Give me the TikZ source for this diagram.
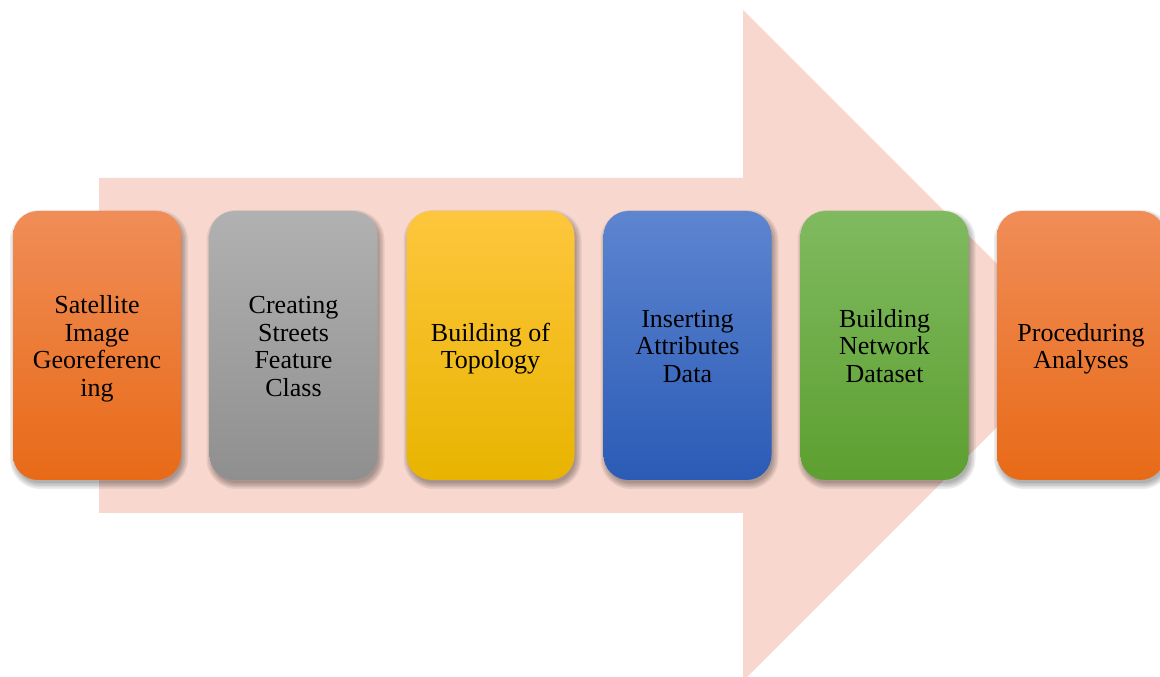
\documentclass[tikz,border=0pt]{standalone}
\usepackage{fontspec}
\setmainfont{Liberation Serif}
\definecolor{arrowfill}{HTML}{F8D8CE}
\definecolor{orange1}{HTML}{F08D57}
\definecolor{orange2}{HTML}{E86A17}
\definecolor{gray1}{HTML}{B1B1B1}
\definecolor{gray2}{HTML}{8F8F8F}
\definecolor{yellow1}{HTML}{FEC63D}
\definecolor{yellow2}{HTML}{E8B400}
\definecolor{blue1}{HTML}{5D85D0}
\definecolor{blue2}{HTML}{2B5BB6}
\definecolor{green1}{HTML}{80BA60}
\definecolor{green2}{HTML}{5D9F30}
% centred multi-line stage label, nudged slightly downwards
\newcommand\stagetext[1]{\raisebox{-4pt}[\height][\depth]{\begin{tabular}{@{}c@{}}#1\end{tabular}}}
\tikzset{
  stagebox/.style={rectangle, rounded corners=25pt, minimum width=168pt,
    minimum height=269pt, inner sep=0pt,
    font=\fontsize{26}{27.5}\selectfont, text=black},
  orangebox/.style={stagebox, top color=orange1, bottom color=orange2},
  graybox/.style={stagebox, top color=gray1, bottom color=gray2},
  yellowbox/.style={stagebox, top color=yellow1, bottom color=yellow2},
  bluebox/.style={stagebox, top color=blue1, bottom color=blue2},
  greenbox/.style={stagebox, top color=green1, bottom color=green2},
  shadowlayer/.style={fill=black, fill opacity=0.07},
}
\begin{document}
\begin{tikzpicture}[x=1pt,y=1pt]
  \useasboundingbox (0,0) rectangle (1160,677);
  \clip (0,0) rectangle (1160,677);
  % background block arrow
  \fill[arrowfill] (99,499) -- (743,499) -- (743,667) -- (1078.5,331.5)
    -- (743,-4) -- (743,164) -- (99,164) -- cycle;
  % soft drop shadows under the stages
  \foreach \cx in {97,293.5,490.5,687.5,884.5,1081}{
    \foreach \r in {-1,0.5,2,3.5,5}{
      \fill[shadowlayer, rounded corners={25+\r}]
        (\cx-84-\r+2, 331.5-134.5-\r-4) rectangle (\cx+84+\r+2, 331.5+134.5+\r-4);
    }
  }
  % process stages
  \node[orangebox] (s1) at (97,331.5) {\stagetext{Satellite\\Image\\Georeferenc\\ing}};
  \node[graybox]   (s2) at (293.5,331.5) {\stagetext{Creating\\Streets\\Feature\\Class}};
  \node[yellowbox] (s3) at (490.5,331.5) {\stagetext{Building of\\Topology}};
  \node[bluebox]   (s4) at (687.5,331.5) {\stagetext{Inserting\\Attributes\\Data}};
  \node[greenbox]  (s5) at (884.5,331.5) {\stagetext{Building\\Network\\Dataset}};
  \node[orangebox] (s6) at (1081,331.5) {\stagetext{Proceduring\\Analyses}};
\end{tikzpicture}
\end{document}
